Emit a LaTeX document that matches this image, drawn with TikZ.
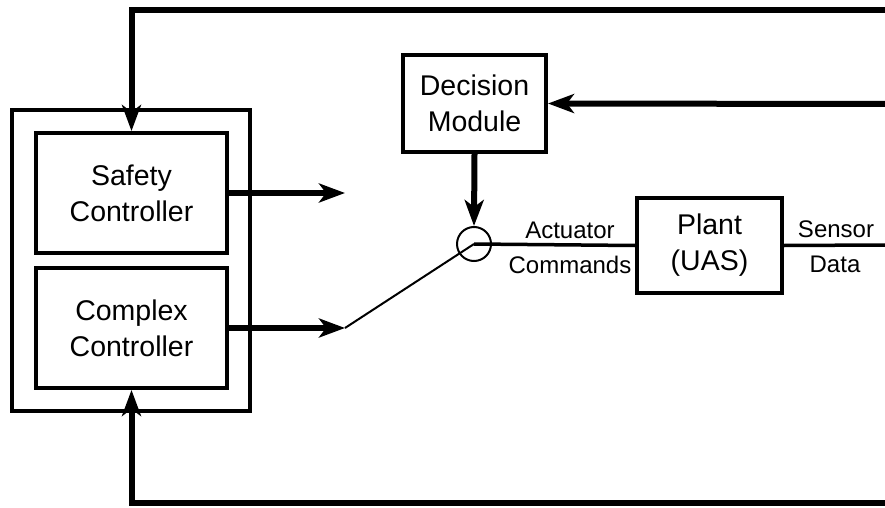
\documentclass[tikz,border=0pt]{standalone}
\usepackage{fontspec}
\setmainfont{Liberation Sans}
\usetikzlibrary{arrows.meta}

\begin{document}
\begin{tikzpicture}[x=1pt,y=-1pt,
  block/.style={draw, line width=4pt, rectangle, align=center, inner sep=0pt,
    font=\fontsize{28.5}{36}\selectfont},
  sig/.style={line width=6pt, -{Stealth[length=26pt,width=19pt,inset=7pt]}},
  lbl/.style={inner sep=0pt, font=\fontsize{24}{28}\selectfont}]
  \useasboundingbox (0,0) rectangle (885,508);

  % Controllers
  \node[block, minimum width=238pt, minimum height=301pt] (ctrl) at (131,260.5) {};
  \node[block, minimum width=191pt, minimum height=120pt] (safety) at (131.5,193) {Safety\\Controller};
  \node[block, minimum width=191pt, minimum height=120pt] (complex) at (131.5,328) {Complex\\Controller};

  % Decision and plant
  \node[block, minimum width=143pt, minimum height=97pt] (decision) at (474.5,103.5) {Decision\\Module};
  \node[block, minimum width=145pt, minimum height=95pt] (plant) at (709.5,245.5) {Plant\\(UAS)};
  \node[draw, circle, line width=2pt, minimum size=34pt, inner sep=0pt] (sw) at (474,244) {};

  % Free ends
  \coordinate (topR) at (885,10);
  \coordinate (botR) at (885,503);
  \coordinate (decR) at (885,104);
  \coordinate (senR) at (885,245);
  \coordinate (safeOut) at (345,193);
  \coordinate (cplxOut) at (345,328);

  % Feedback
  \draw[sig] (topR) -| (safety.north);
  \draw[sig] (botR) -| (complex.south);
  \draw[sig] (decR) -- (decision.east);
  \draw[sig] (decision.south) -- (sw.north);

  % Controller outputs and switch
  \draw[sig] (safety.east) -- (safeOut);
  \draw[sig] (complex.east) -- (cplxOut);
  \draw[line width=2pt] (cplxOut) -- (sw.center);

  % Plant signals
  \draw[line width=3.5pt] (sw.center) -- (plant.west);
  \draw[line width=3.5pt] (plant.east) -- (senR);
  \node[lbl, anchor=base] (act) at (570,238) {Actuator};
  \node[lbl, anchor=base] (cmd) at (570,273) {Commands};
  \node[lbl, anchor=base] (sen) at (836,237) {Sensor};
  \node[lbl, anchor=base] (dat) at (835,272) {Data};
\end{tikzpicture}
\end{document}
